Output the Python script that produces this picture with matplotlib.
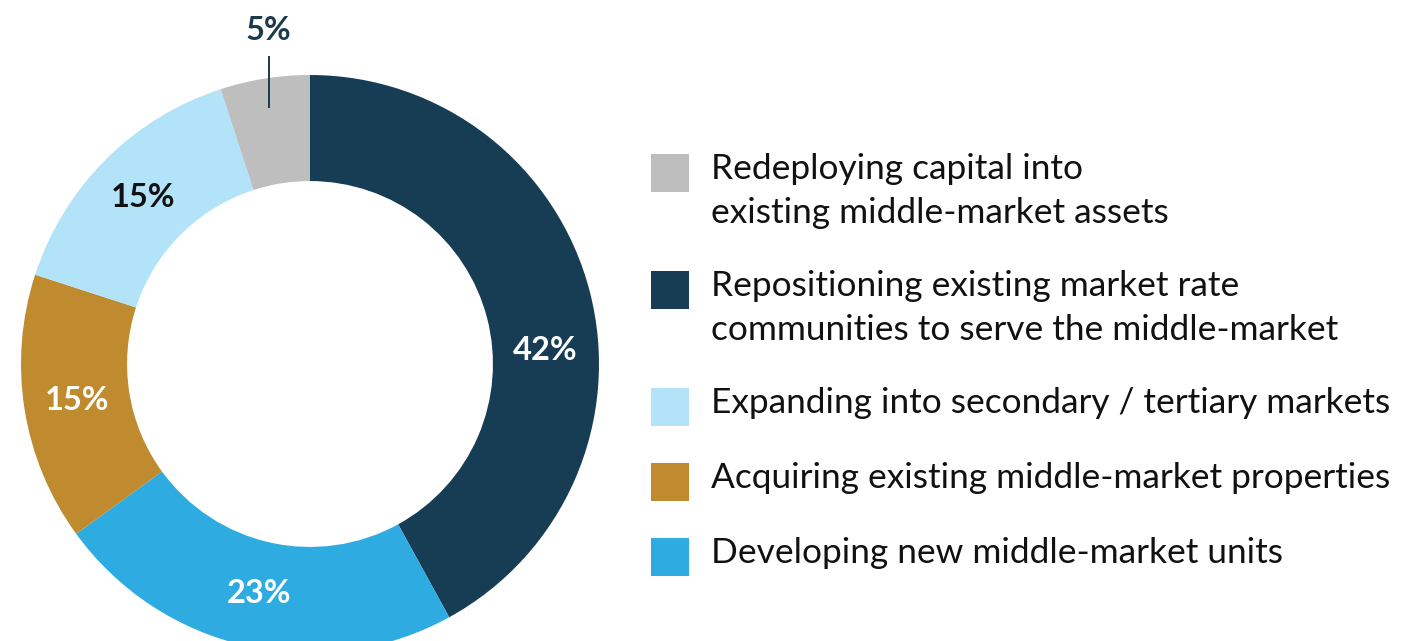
import numpy as np
import matplotlib
matplotlib.use("Agg")
import matplotlib.pyplot as plt
from matplotlib.patches import Rectangle

plt.rcParams["font.family"] = ["Lato", "DejaVu Sans"]

# slices, clockwise from 12 o'clock
slice_names = ["Repositioning existing market rate\ncommunities to serve the middle-market",
               "Developing new middle-market units",
               "Acquiring existing middle-market properties",
               "Expanding into secondary / tertiary markets",
               "Redeploying capital into\nexisting middle-market assets"]
slice_values = [42, 23, 15, 15, 5]
slice_colors = ["#173D55", "#2EACE2", "#C08A2E", "#B2E3F8", "#BEBEBE"]
label_colors = ["white", "white", "white", "#111111", "#1B3A4E"]

# legend runs in a different order than the ring
legend_order = [4, 0, 3, 2, 1]

W, H = 1402, 641
fig = plt.figure(figsize=(W / 100, H / 100), dpi=100)

# donut: centre (310, 363) px from top-left, outer radius 289 px
cx, cy, R = 310, 364, 289
ax = fig.add_axes([(cx - R) / W, (H - cy - R) / H, 2 * R / W, 2 * R / H])
wedges, _ = ax.pie(slice_values, colors=slice_colors, startangle=90,
                   counterclock=False, radius=1,
                   wedgeprops=dict(width=0.367, edgecolor="none", linewidth=0))
ax.set_xlim(-1, 1)
ax.set_ylim(-1, 1)
ax.set_aspect("equal")
ax.axis("off")

# percentage labels sit in the middle of the ring
nudge = {0: -11}
r_lab = 0.815
for i, (w, v) in enumerate(zip(wedges, slice_values)):
    mid = np.deg2rad((w.theta1 + w.theta2) / 2 + nudge.get(i, 0))
    if v < 10:
        # small slice: label above the ring with a leader line
        x0, y0 = 0.9 * np.cos(mid), 0.9 * np.sin(mid)
        ax.plot([x0, x0], [y0, 1.063], color="#1B3A4E", lw=1.4, clip_on=False)
        ax.text(x0 - 0.005, 1.155, f"{v}%", ha="center", va="center",
                fontsize=23.5, fontweight="bold", color=label_colors[i], clip_on=False)
    else:
        ax.text(r_lab * np.cos(mid), r_lab * np.sin(mid), f"{v}%",
                ha="center", va="center", fontsize=23.5, fontweight="bold",
                color=label_colors[i])

# legend drawn by hand: squares + wrapped text
box_tops = [154, 271, 388, 463, 538]
for top, k in zip(box_tops, legend_order):
    fig.add_artist(Rectangle((651 / W, (H - top - 38) / H), 38 / W, 38 / H,
                             transform=fig.transFigure, facecolor=slice_colors[k],
                             edgecolor="none"))
    for j, line in enumerate(slice_names[k].split("\n")):
        base = top + 25 + 44 * j
        fig.text(711 / W, (H - base) / H, line, ha="left", va="baseline",
                 fontsize=25.4, color="#111111")

fig.savefig("out.png", dpi=100)
